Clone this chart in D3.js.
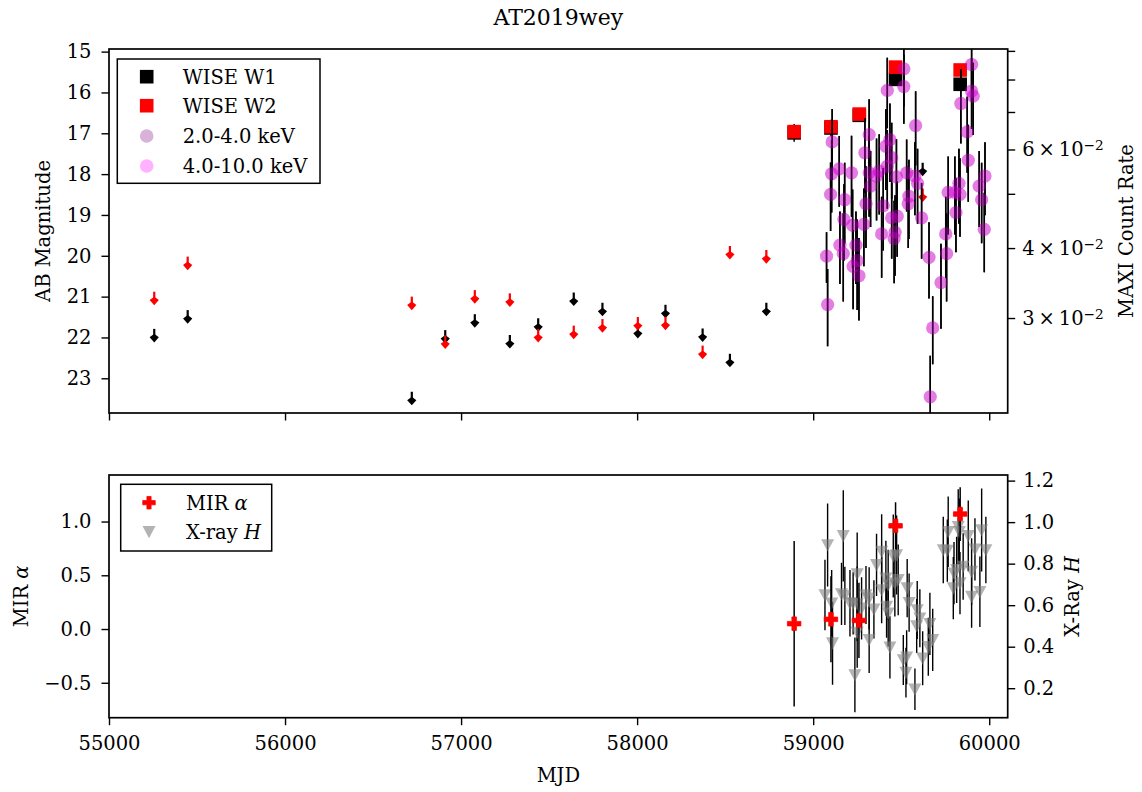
<!DOCTYPE html>
<html><head><meta charset="utf-8">
<script src="https://cdn.jsdelivr.net/npm/d3@7"></script>
<style>body{margin:0;background:#fff} text{font-family:'DejaVu Serif',serif;fill:#000}</style>
</head><body><svg id="c" width="1142" height="792"></svg>
<script>
// ---------------- data ----------------
const titleText = "AT2019wey";
const xTicks = [55000, 56000, 57000, 58000, 59000, 60000];
const magTicks = [15, 16, 17, 18, 19, 20, 21, 22, 23];
const rateTicks = [0.03, 0.04, 0.05, 0.06, 0.07, 0.08, 0.09];
const rateLabels = [[0.03, "3"], [0.04, "4"], [0.06, "6"]];
const alphaTicks = [-0.5, 0.0, 0.5, 1.0];
const hTicks = [0.2, 0.4, 0.6, 0.8, 1.0, 1.2];

// WISE upper limits
const w1LimMJD = [55257, 55447, 56720, 56910, 57078, 57277, 57438, 57640, 57803, 58004, 58161, 58372, 58527, 58734, 59622];
const w1LimMag = [21.79, 21.33, 23.33, 21.82, 21.43, 21.94, 21.53, 20.90, 21.15, 21.69, 21.20, 21.78, 22.40, 21.15, 17.72];
const w2LimMJD = [55257, 55447, 56720, 56910, 57078, 57277, 57438, 57640, 57803, 58004, 58161, 58372, 58527, 58734, 59622];
const w2LimMag = [20.88, 20.02, 21.00, 21.95, 20.84, 20.92, 21.79, 21.71, 21.55, 21.50, 21.49, 22.20, 19.76, 19.86, 18.35];
// WISE detections
const w1MJD = [58892, 59101, 59262, 59468, 59835];
const w1Mag = [16.99, 16.87, 16.56, 15.68, 15.80];
const w1Err = [0.22, 0.20, 0.15, 0.10, 0.10];
const w2MJD = [58892, 59101, 59262, 59468, 59835];
const w2Mag = [16.96, 16.84, 16.53, 15.38, 15.45];
const w2Err = [0.06, 0.06, 0.05, 0.05, 0.05];

// MAXI count rates
const maxiMJD = [59076, 59082, 59099, 59105, 59108, 59148, 59152, 59171, 59175, 59179, 59218, 59224, 59227, 59243, 59250, 59260, 59288, 59294, 59300, 59318, 59318, 59326, 59360, 59375, 59389, 59398, 59413, 59421, 59421, 59436, 59446, 59446, 59460, 59465, 59473, 59477, 59515, 59515, 59531, 59540, 59544, 59578, 59582, 59593, 59616, 59658, 59665, 59679, 59726, 59753, 59758, 59767, 59805, 59811, 59828, 59834, 59839, 59875, 59881, 59900, 59900, 59909, 59943, 59957, 59972, 59976];
const rate2_4 = [0.0387, 0.0317, 0.0499, 0.0543, 0.0619, 0.0554, 0.0405, 0.0391, 0.0450, 0.0488, 0.0545, 0.0439, 0.0371, 0.0405, 0.0380, 0.0357, 0.0441, 0.0592, 0.0480, 0.0638, 0.0545, 0.0516, 0.0538, 0.0549, 0.0424, 0.0476, 0.0608, 0.0765, 0.0560, 0.0625, 0.0580, 0.0453, 0.0416, 0.0427, 0.0536, 0.0456, 0.0836, 0.0777, 0.0545, 0.0480, 0.0495, 0.0538, 0.0662, 0.0522, 0.0453, 0.0385, 0.0217, 0.0288, 0.0347, 0.0424, 0.0391, 0.0503, 0.0503, 0.0463, 0.0522, 0.0499, 0.0725, 0.0645, 0.0574, 0.0851, 0.0763, 0.0747, 0.0516, 0.0488, 0.0432, 0.0538];
const rate4_10 = [0.0387, 0.0317, 0.0499, 0.0543, 0.0619, 0.0554, 0.0405, 0.0391, 0.0450, 0.0488, 0.0545, 0.0439, 0.0371, 0.0405, 0.0380, 0.0357, 0.0441, 0.0592, 0.0480, 0.0638, 0.0545, 0.0516, 0.0538, 0.0549, 0.0424, 0.0476, 0.0608, 0.0765, 0.0560, 0.0625, 0.0580, 0.0453, 0.0416, 0.0427, 0.0536, 0.0456, 0.0836, 0.0777, 0.0545, 0.0480, 0.0495, 0.0538, 0.0662, 0.0522, 0.0453, 0.0385, 0.0217, 0.0288, 0.0347, 0.0424, 0.0391, 0.0503, 0.0503, 0.0463, 0.0522, 0.0499, 0.0725, 0.0645, 0.0574, 0.0851, 0.0763, 0.0747, 0.0516, 0.0488, 0.0432, 0.0538];
const rateErr = [0.004, 0.005, 0.007, 0.008, 0.009, 0.008, 0.006, 0.007, 0.007, 0.008, 0.009, 0.007, 0.006, 0.006, 0.007, 0.006, 0.007, 0.009, 0.008, 0.010, 0.009, 0.008, 0.009, 0.009, 0.007, 0.008, 0.010, 0.011, 0.009, 0.010, 0.009, 0.007, 0.007, 0.007, 0.009, 0.007, 0.012, 0.011, 0.008, 0.008, 0.008, 0.008, 0.010, 0.008, 0.007, 0.006, 0.004, 0.004, 0.006, 0.007, 0.007, 0.008, 0.008, 0.007, 0.008, 0.008, 0.011, 0.010, 0.009, 0.012, 0.011, 0.011, 0.008, 0.008, 0.007, 0.008];

// MIR alpha
const mirMJD = [58892, 59101, 59260, 59468, 59835];
const mirAlpha = [0.05, 0.09, 0.08, 0.96, 1.07];
const mirErr = [0.77, 0.40, 0.35, 0.22, 0.25];

// X-ray hardness
const hMJD = [59067, 59082, 59105, 59110, 59161, 59171, 59180, 59209, 59227, 59237, 59250, 59250, 59250, 59275, 59300, 59318, 59318, 59345, 59360, 59389, 59389, 59413, 59417, 59426, 59426, 59436, 59455, 59464, 59474, 59483, 59512, 59527, 59531, 59534, 59545, 59578, 59588, 59591, 59606, 59622, 59654, 59663, 59679, 59739, 59762, 59767, 59796, 59800, 59815, 59824, 59830, 59834, 59852, 59881, 59900, 59900, 59919, 59947, 59957, 59981];
const hVal = [0.649, 0.890, 0.609, 0.417, 0.654, 0.934, 0.645, 0.609, 0.609, 0.264, 0.750, 0.606, 0.468, 0.585, 0.649, 0.633, 0.433, 0.580, 0.794, 0.858, 0.673, 0.730, 0.593, 0.697, 0.561, 0.397, 0.837, 0.706, 0.842, 0.722, 0.336, 0.275, 0.349, 0.682, 0.612, 0.195, 0.500, 0.577, 0.537, 0.344, 0.400, 0.510, 0.433, 0.866, 0.863, 0.954, 0.682, 0.754, 0.770, 0.978, 0.954, 0.706, 0.786, 0.934, 0.762, 0.641, 0.869, 0.665, 0.962, 0.866];
const hErr = [0.17, 0.20, 0.16, 0.20, 0.15, 0.22, 0.14, 0.16, 0.15, 0.18, 0.20, 0.18, 0.17, 0.15, 0.14, 0.15, 0.16, 0.14, 0.15, 0.18, 0.16, 0.18, 0.15, 0.17, 0.16, 0.15, 0.20, 0.16, 0.19, 0.17, 0.12, 0.12, 0.13, 0.14, 0.14, 0.10, 0.13, 0.14, 0.14, 0.13, 0.14, 0.15, 0.15, 0.16, 0.15, 0.17, 0.15, 0.15, 0.16, 0.18, 0.16, 0.15, 0.16, 0.17, 0.16, 0.15, 0.15, 0.17, 0.20, 0.16];

// ---------------- layout ----------------
const L = 109, R = 1007.7, T1 = 49, B1 = 413, T2 = 475, B2 = 717.7;
const FS = 19.5, TICK = 7.5, SPINE = 1.7;
const arrowLen = 0.22;
const svg = d3.select("#c");

const x = d3.scaleLinear().domain([55000, 60105]).range([L, R]);
const yMag = d3.scaleLinear().domain([14.936, 23.85]).range([T1, B1]);
const yRate = d3.scaleLog().domain([0.0203, 0.0907]).range([B1, T1]);
const yA = d3.scaleLinear().domain([-0.825, 1.433]).range([B2, T2]);
const yH = d3.scaleLinear().domain([0.058, 1.227]).range([B2, T2]);

const defs = svg.append("defs");
defs.append("clipPath").attr("id", "c1").append("rect").attr("x", L).attr("y", T1).attr("width", R - L).attr("height", B1 - T1);
defs.append("clipPath").attr("id", "c2").append("rect").attr("x", L).attr("y", T2).attr("width", R - L).attr("height", B2 - T2);

function styleAxis(g) {
  g.select(".domain").remove();
  g.attr("font-family", "DejaVu Serif").attr("font-size", FS);
  g.selectAll(".tick line").attr("stroke", "#000").attr("stroke-width", 1.4);
  g.selectAll(".tick text").attr("fill", "#000");
}

// axes top panel
svg.append("g").attr("transform", `translate(0,${B1})`)
  .call(d3.axisBottom(x).tickValues(xTicks).tickSize(TICK).tickFormat(""))
  .call(styleAxis);
svg.append("g").attr("transform", `translate(${L},0)`)
  .call(d3.axisLeft(yMag).tickValues(magTicks).tickSize(TICK).tickPadding(10).tickFormat(d3.format("d")))
  .call(styleAxis);
svg.append("g").attr("transform", `translate(${R},0)`)
  .call(d3.axisRight(yRate).tickValues(rateTicks).tickSize(TICK).tickFormat(""))
  .call(styleAxis);
const rl = svg.append("g");
rateLabels.forEach(([v, m]) => {
  const t = rl.append("text").attr("x", R + TICK + 7).attr("y", yRate(v)).attr("dy", "0.36em").attr("font-size", FS);
  t.append("tspan").text(m + "\u2009×\u200910");
  t.append("tspan").attr("dy", "-0.45em").attr("font-size", FS * 0.7).text("−2");
});

// axes bottom panel
svg.append("g").attr("transform", `translate(0,${B2})`)
  .call(d3.axisBottom(x).tickValues(xTicks).tickSize(TICK).tickPadding(11).tickFormat(d3.format("d")))
  .call(styleAxis);
svg.append("g").attr("transform", `translate(${L},0)`)
  .call(d3.axisLeft(yA).tickValues(alphaTicks).tickSize(TICK).tickPadding(10).tickFormat(d3.format(".1f")))
  .call(styleAxis);
svg.append("g").attr("transform", `translate(${R},0)`)
  .call(d3.axisRight(yH).tickValues(hTicks).tickSize(TICK).tickPadding(8).tickFormat(d3.format(".1f")))
  .call(styleAxis);

// ---------------- top panel marks ----------------
const p1 = svg.append("g").attr("clip-path", "url(#c1)");
const kite = "M0,-4 L4.6,-0.6 L0,4.6 L-4.6,-0.6 Z";
function limits(mjd, mag, col) {
  const g = p1.append("g");
  mjd.forEach((d, i) => {
    const xx = x(d), y0 = yMag(mag[i]), y1 = yMag(mag[i] + arrowLen);
    g.append("line").attr("x1", xx).attr("x2", xx).attr("y1", y0).attr("y2", y1).attr("stroke", col).attr("stroke-width", 2.2);
    g.append("path").attr("d", kite).attr("transform", `translate(${xx},${y1})`).attr("fill", col);
  });
}
function squares(mjd, mag, err, col, ecol) {
  const g = p1.append("g");
  mjd.forEach((d, i) => {
    const xx = x(d);
    g.append("line").attr("x1", xx).attr("x2", xx).attr("y1", yMag(mag[i] - err[i])).attr("y2", yMag(mag[i] + err[i])).attr("stroke", ecol).attr("stroke-width", 1.5);
  });
  g.selectAll("rect").data(mjd).join("rect")
    .attr("x", (d) => x(d) - 6.8).attr("y", (d, i) => yMag(mag[i]) - 6.8)
    .attr("width", 13.6).attr("height", 13.6).attr("fill", col);
}
limits(w1LimMJD, w1LimMag, "#000");
squares(w1MJD, w1Mag, w1Err, "#000", "#000");
limits(w2LimMJD, w2LimMag, "#ff0000");
squares(w2MJD, w2Mag, w2Err, "#ff0000", "#ff0000");

function maxi(rate, col) {
  const g = p1.append("g");
  maxiMJD.forEach((d, i) => {
    const xx = x(d);
    g.append("line").attr("x1", xx).attr("x2", xx).attr("y1", yRate(rate[i] + rateErr[i])).attr("y2", yRate(Math.max(rate[i] - rateErr[i], 0.005)))
      .attr("stroke", "#000").attr("stroke-width", 1.5);
  });
  g.selectAll("circle").data(maxiMJD).join("circle")
    .attr("cx", (d) => x(d)).attr("cy", (d, i) => yRate(rate[i])).attr("r", 6.6)
    .attr("fill", col).attr("fill-opacity", 0.3);
}
maxi(rate2_4, "#800080");
maxi(rate4_10, "#ff00ff");

// ---------------- bottom panel marks ----------------
const p2 = svg.append("g").attr("clip-path", "url(#c2)");
const gh = p2.append("g");
hMJD.forEach((d, i) => {
  gh.append("line").attr("x1", x(d)).attr("x2", x(d)).attr("y1", yH(hVal[i] + hErr[i])).attr("y2", yH(hVal[i] - hErr[i]))
    .attr("stroke", "#000").attr("stroke-width", 1.4);
});
const tri = "M-6.5,-5.8 L6.5,-5.8 L0,6.5 Z";
gh.selectAll("path").data(hMJD).join("path").attr("d", tri)
  .attr("transform", (d, i) => `translate(${x(d)},${yH(hVal[i])})`)
  .attr("fill", "#808080").attr("fill-opacity", 0.6);
const plusPath = (s) => { const a = s / 2, t = s / 6; return `M${-t},${-a}L${t},${-a}L${t},${-t}L${a},${-t}L${a},${t}L${t},${t}L${t},${a}L${-t},${a}L${-t},${t}L${-a},${t}L${-a},${-t}L${-t},${-t}Z`; };
const gm = p2.append("g");
mirMJD.forEach((d, i) => {
  gm.append("line").attr("x1", x(d)).attr("x2", x(d)).attr("y1", yA(mirAlpha[i] + mirErr[i])).attr("y2", yA(mirAlpha[i] - mirErr[i]))
    .attr("stroke", "#000").attr("stroke-width", 1.5);
});
gm.selectAll("path").data(mirMJD).join("path").attr("d", plusPath(13.5))
  .attr("transform", (d, i) => `translate(${x(d)},${yA(mirAlpha[i])})`)
  .attr("fill", "#ff0000").attr("stroke", "#ff0000").attr("stroke-width", 0.8).attr("stroke-linejoin", "round");

// frames
[[T1, B1], [T2, B2]].forEach(([t, b]) => {
  svg.append("rect").attr("x", L).attr("y", t).attr("width", R - L).attr("height", b - t)
    .attr("fill", "none").attr("stroke", "#000").attr("stroke-width", SPINE);
});

// ---------------- legends ----------------
const lg1 = svg.append("g");
lg1.append("rect").attr("x", 117.3).attr("y", 59).attr("width", 202.7).attr("height", 124.3)
  .attr("fill", "#fff").attr("stroke", "#000").attr("stroke-width", 1.5);
const leg1 = [["WISE W1", "sq", "#000", 1], ["WISE W2", "sq", "#ff0000", 1], ["2.0-4.0 keV", "ci", "#800080", 0.3], ["4.0-10.0 keV", "ci", "#ff00ff", 0.3]];
const rows1 = [76.7, 105.7, 136, 166];
leg1.forEach(([lab, kind, col, op], i) => {
  const yy = rows1[i];
  if (kind === "sq") lg1.append("rect").attr("x", 146.7 - 6.8).attr("y", yy - 6.8).attr("width", 13.6).attr("height", 13.6).attr("fill", col);
  else lg1.append("circle").attr("cx", 146.7).attr("cy", yy).attr("r", 6.8).attr("fill", col).attr("fill-opacity", op);
  lg1.append("text").attr("x", 182.7).attr("y", yy).attr("dy", "0.36em").attr("font-size", FS).text(lab);
});
const lg2 = svg.append("g");
lg2.append("rect").attr("x", 120.7).attr("y", 484.3).attr("width", 151).attr("height", 66.7)
  .attr("fill", "#fff").attr("stroke", "#000").attr("stroke-width", 1.5);
lg2.append("path").attr("d", plusPath(12.5)).attr("transform", "translate(149,502.7)").attr("fill", "#ff0000").attr("stroke", "#ff0000").attr("stroke-width", 0.8).attr("stroke-linejoin", "round");
lg2.append("path").attr("d", tri).attr("transform", "translate(149,531.7)").attr("fill", "#808080").attr("fill-opacity", 0.6);
const t1 = lg2.append("text").attr("x", 186).attr("y", 502.7).attr("dy", "0.36em").attr("font-size", FS);
t1.append("tspan").text("MIR ");
t1.append("tspan").attr("font-style", "italic").text("α");
const t2 = lg2.append("text").attr("x", 186).attr("y", 531.7).attr("dy", "0.36em").attr("font-size", FS);
t2.append("tspan").text("X-ray ");
t2.append("tspan").attr("font-style", "italic").text("H");

// ---------------- labels ----------------
svg.append("text").attr("x", (L + R) / 2).attr("y", 25).attr("text-anchor", "middle").attr("font-size", 22).text(titleText);
svg.append("text").attr("x", (L + R) / 2).attr("y", 782).attr("text-anchor", "middle").attr("font-size", FS).text("MJD");
svg.append("text").attr("transform", `translate(50,${(T1 + B1) / 2}) rotate(-90)`).attr("text-anchor", "middle").attr("font-size", FS).text("AB Magnitude");
svg.append("text").attr("transform", `translate(1133,${(T1 + B1) / 2}) rotate(-90)`).attr("text-anchor", "middle").attr("font-size", FS).text("MAXI Count Rate");
const ml = svg.append("text").attr("transform", `translate(28,${(T2 + B2) / 2}) rotate(-90)`).attr("text-anchor", "middle").attr("font-size", FS);
ml.append("tspan").text("MIR ");
ml.append("tspan").attr("font-style", "italic").text("α");
const hl = svg.append("text").attr("transform", `translate(1079,${(T2 + B2) / 2}) rotate(-90)`).attr("text-anchor", "middle").attr("font-size", FS);
hl.append("tspan").text("X-Ray ");
hl.append("tspan").attr("font-style", "italic").text("H");
</script></body></html>
